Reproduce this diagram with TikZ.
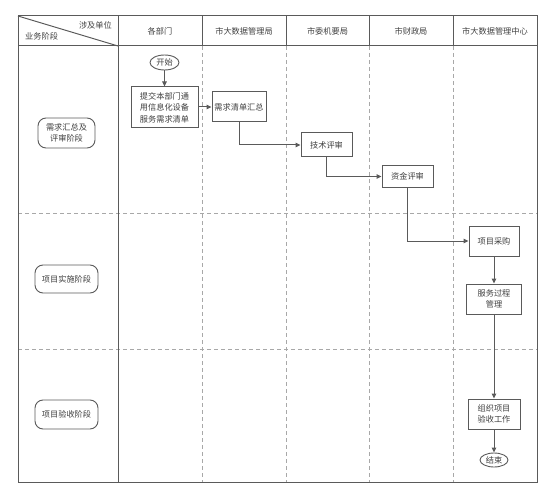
\documentclass[tikz,border=0pt]{standalone}
\usepackage{fontspec}
\setmainfont{Noto Sans CJK SC}
\usetikzlibrary{arrows.meta,shapes.geometric}
\definecolor{ln}{HTML}{5A5A5A}
\definecolor{dl}{HTML}{A8A8A8}
\definecolor{tx}{HTML}{404040}
\begin{document}
\begin{tikzpicture}[x=1pt,y=-1pt,
  frame/.style={draw=ln, line width=1pt},
  sepline/.style={draw=dl, dash pattern=on 4pt off 3pt, line width=0.9pt},
  hdr/.style={text=tx, font=\fontsize{8.2}{10}\selectfont, inner sep=0pt},
  box/.style={draw=ln, line width=1pt, fill=white, text=tx, font=\fontsize{8.2}{11.5}\selectfont, align=center, inner sep=0pt},
  oval/.style={ellipse, draw=ln, line width=0.9pt, fill=white, text=tx, font=\fontsize{8.2}{10}\selectfont, inner sep=0pt},
  stage/.style={draw=ln, line width=0.9pt, rounded corners=8pt, fill=white, text=tx, font=\fontsize{8.2}{11}\selectfont, align=center, inner sep=0pt},
  arr/.style={draw=ln, line width=1pt, -{Triangle[length=5pt,width=4.5pt]}}
]
\useasboundingbox (0,0) rectangle (551,497);
% dashed separators
\foreach \x in {202,286,369,453} \draw[sepline] (\x,46) -- (\x,482);
\draw[sepline] (18,213) -- (537,213);
\draw[sepline] (18,349) -- (537,349);
% frame
\draw[frame] (18,16) rectangle (537,482);
\draw[frame] (18,46) -- (537,46);
\draw[frame] (118,16) -- (118,482);
\foreach \x in {202,286,369,453} \draw[frame] (\x,16) -- (\x,46);
\draw[frame] (18,16) -- (118,46);
% header texts
\node[hdr, anchor=east] (h0a) at (112,25) {涉及单位};
\node[hdr, anchor=west] (h0b) at (25,36.5) {业务阶段};
\node[hdr] (h1) at (160,31) {各部门};
\node[hdr] (h2) at (244,31) {市大数据管理局};
\node[hdr] (h3) at (327.5,31) {市委机要局};
\node[hdr] (h4) at (411,31) {市财政局};
\node[hdr] (h5) at (495,31) {市大数据管理中心};
% stage labels
\node[stage, minimum width=57pt, minimum height=30pt] (s1) at (66.5,133) {需求汇总及\\评审阶段};
\node[stage, minimum width=63pt, minimum height=28pt] (s2) at (66.5,279) {项目实施阶段};
\node[stage, minimum width=63pt, minimum height=29pt] (s3) at (66.5,414.5) {项目验收阶段};
% flow nodes
\node[oval, minimum width=29pt, minimum height=15pt] (start) at (164.5,62.5) {开始};
\node[box, minimum width=67pt, minimum height=41pt] (submit) at (164.5,107.5) {提交本部门通\\用信息化设备\\服务需求清单};
\node[box, minimum width=54pt, minimum height=30pt] (collect) at (239,107) {需求清单汇总};
\node[box, minimum width=51pt, minimum height=24pt] (tech) at (326.5,145) {技术评审};
\node[box, minimum width=51pt, minimum height=22pt] (fund) at (407.5,176.5) {资金评审};
\node[box, minimum width=50pt, minimum height=30pt] (buy) at (494,241) {项目采购};
\node[box, minimum width=55pt, minimum height=30pt] (serve) at (494,299) {服务过程\\管理};
\node[box, minimum width=52pt, minimum height=30pt] (accept) at (494,414) {组织项目\\验收工作};
\node[oval, minimum width=28pt, minimum height=14pt] (end) at (494,460) {结束};
% connectors
\draw[arr] (start) -- (submit);
\draw[arr] (submit.east |- collect.west) -- (collect.west);
\draw[arr] (collect.south) |- (tech.west);
\draw[arr] (tech.south) |- (fund.west);
\draw[arr] (fund.south) |- (buy.west);
\draw[arr] (buy) -- (serve);
\draw[arr] (serve) -- (accept);
\draw[arr] (accept) -- (end);
\end{tikzpicture}
\end{document}
